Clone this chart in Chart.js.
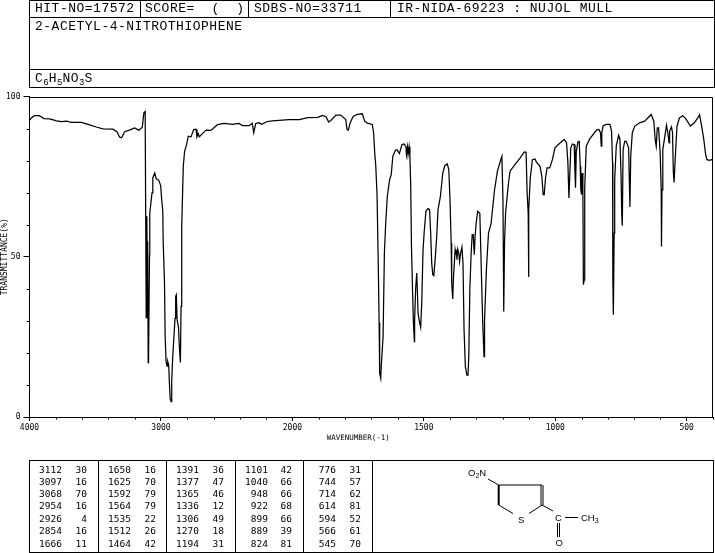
<!DOCTYPE html>
<html><head><meta charset="utf-8">
<script src="https://cdn.jsdelivr.net/npm/chart.js@4"></script>
<style>
html,body{margin:0;padding:0;background:#fff;width:715px;height:553px;overflow:hidden}
#wrap{position:relative;width:715px;height:553px;font-family:"Liberation Mono",monospace;color:#000}
canvas{position:absolute;left:0;top:0}
.h,.v{position:absolute;background:#000}
.h{height:1px}.v{width:1px}
.t{position:absolute;white-space:pre;font-size:13px;letter-spacing:.5px;line-height:14px}
.t sub{font-size:9px;line-height:0;vertical-align:-3px;letter-spacing:0}
.c{position:absolute;font-family:"DejaVu Sans Mono",monospace;font-size:9.5px;line-height:10px;text-align:right;width:30px}
svg{position:absolute;left:0;top:0}
</style></head><body>
<div id="wrap">
<canvas id="c" width="715" height="553"></canvas>
<div class="h" style="left:29px;top:0;width:686px"></div>
<div class="h" style="left:29px;top:17px;width:686px"></div>
<div class="h" style="left:29px;top:69px;width:686px"></div>
<div class="h" style="left:29px;top:87px;width:686px"></div>
<div class="v" style="left:29px;top:0;height:87px"></div>
<div class="v" style="left:714px;top:0;height:87px"></div>
<div class="v" style="left:140px;top:0;height:17px"></div>
<div class="v" style="left:248px;top:0;height:17px"></div>
<div class="v" style="left:390px;top:0;height:17px"></div>
<div class="t" style="left:35px;top:2px">HIT-NO=17572</div>
<div class="t" style="left:145px;top:2px">SCORE=  (  )</div>
<div class="t" style="left:254px;top:2px">SDBS-NO=33711</div>
<div class="t" style="left:397px;top:2px">IR-NIDA-69223 : NUJOL MULL</div>
<div class="t" style="left:35px;top:20px">2-ACETYL-4-NITROTHIOPHENE</div>
<div class="t" style="left:35px;top:72px">C<sub>6</sub>H<sub>5</sub>NO<sub>3</sub>S</div>
<div class="h" style="left:29px;top:460px;width:344px"></div>
<div class="h" style="left:29px;top:552px;width:344px"></div>
<div class="v" style="left:29px;top:460px;height:93px"></div>
<div class="v" style="left:98px;top:460px;height:93px"></div>
<div class="v" style="left:166px;top:460px;height:93px"></div>
<div class="v" style="left:235px;top:460px;height:93px"></div>
<div class="v" style="left:303px;top:460px;height:93px"></div>
<div class="v" style="left:372px;top:460px;height:93px"></div>
<div class="h" style="left:372px;top:460px;width:342px"></div>
<div class="h" style="left:372px;top:552px;width:342px"></div>
<div class="v" style="left:713px;top:460px;height:93px"></div>
<svg width="715" height="553" font-family="Liberation Sans" font-size="9.5" fill="#000">
<g stroke="#000" stroke-width="1" fill="none">
<path d="M488 479L498.7 485L542 485"/>
<path d="M498.7 485L498.7 505" stroke-width="2"/>
<path d="M498.7 505L513 513.5"/>
<path d="M541 485L541 505M543 485L543 505" />
<path d="M542 505L529 513.5"/>
<path d="M542 505L553 511"/>
<path d="M565 517.5L578 517.5"/>
<path d="M557.5 523L557.5 537M559.5 523L559.5 537"/>
</g>
<text x="468" y="476">O<tspan font-size="7" dy="2">2</tspan><tspan dy="-2">N</tspan></text>
<text x="518" y="523">S</text>
<text x="555" y="521">C</text>
<text x="581" y="521">CH<tspan font-size="7" dy="2">3</tspan></text>
<text x="555.5" y="546">O</text>
</svg>
</div>
<script>
const wavenumbers = [
4000,3983,3964,3926,3890,3845,3794,3756,3718,3680,
3605,3555,3486,3441,3365,3335,3314,3299,3276,3239,
3201,3168,3142,3130,3120,3112,3107,3104,3101,3097,
3094,3087,3085,3068,3062,3047,3036,3017,3002,2996,
2986,2983,2973,2968,2961,2953,2948,2941,2936,2930,
2923,2918,2911,2898,2893,2888,2883,2877,2867,2860,
2852,2847,2842,2830,2820,2805,2792,2771,2751,2733,
2726,2716,2708,2658,2620,2570,2519,2456,2405,2380,
2330,2305,2294,2279,2254,2233,2191,2153,2027,1973,
1942,1904,1885,1872,1862,1853,1834,1816,1797,1792,
1787,1780,1769,1753,1734,1725,1715,1696,1691,1686,
1683,1678,1674,1670,1668,1664,1662,1655,1650,1645,
1639,1630,1624,1618,1608,1602,1593,1583,1575,1568,
1566,1562,1560,1556,1553,1550,1547,1543,1540,1536,
1535,1531,1527,1525,1522,1517,1512,1508,1503,1498,
1492,1484,1478,1474,1470,1466,1462,1457,1451,1446,
1437,1428,1420,1411,1405,1400,1396,1394,1390,1387,
1383,1381,1378,1376,1374,1371,1367,1364,1360,1355,
1351,1347,1342,1336,1332,1329,1325,1320,1316,1312,
1308,1305,1301,1295,1287,1282,1276,1271,1269,1262,
1254,1244,1231,1220,1209,1203,1199,1196,1193,1189,
1178,1172,1153,1134,1118,1111,1107,1103,1102,1100,
1095,1087,1077,1072,1058,1051,1046,1042,1037,1031,
1021,1011,1001,982,966,957,952,948,946,941,
935,928,925,923,920,914,909,905,903,900,
898,895,893,890,888,882,869,843,834,828,
825,823,818,805,792,786,782,781,779,776,
774,768,759,754,750,747,745,742,736,730,
721,719,716,713,707,698,679,660,648,635,
625,620,616,612,607,601,597,596,594,591,
585,577,572,567,565,558,554,551,548,544,
537,528,515,503,486,471,458,451,443,435,
428,423,412,400];
const transmittance = [
92.6,93.4,94,94,93.1,93,92.4,92.2,92.3,91.9,
91.9,91.3,90.4,89.9,89.8,89,87.3,87.1,89,89.5,
90.2,89.5,90.4,94.9,95.3,31,62.6,36,54.8,17,
20,50.6,63.6,69.9,74.6,76.1,74.3,73.9,72.2,68.7,
64.2,54.8,41.8,25.1,17.3,15.9,17.3,16.2,11,5.8,
4.8,11.6,18.3,27.2,30.8,37.6,38.1,30.3,28.2,22,
17,34.5,59.5,78.2,82.9,85,87.6,87.4,89.7,89.8,
87.4,88.4,87.4,89.5,89.4,91.2,91.6,91.3,91.6,90.9,
90.9,91.6,88.7,91.6,91.8,91.3,92.2,92.4,92.8,92.8,
93.4,93.5,94.1,93.7,92,92.6,94.2,94.2,92.8,89.7,
89.5,91.8,93.8,94.4,94.6,92.3,91.7,91.3,88.7,81.3,
78.8,69.4,51.1,29.3,13.7,12.1,15.7,25.1,51.1,60.5,
68.8,74.1,75.6,81.3,83.2,83.4,82.2,85,85.2,84.3,
81.9,84.3,81.9,84.3,81.3,73,53.2,39.7,30.3,23.5,
30.3,40.2,44.9,40.7,32.4,29.8,28,35.5,52.2,58.4,
64.2,65,64.7,57.4,48,44.4,44.1,49.1,56.3,64.7,
68.8,76.1,78.4,79,77.2,66.8,54.3,41.8,36.8,43.9,
49.1,52.2,50.6,52.2,49.1,52.4,51.1,48.5,51.1,53,
48,27.2,15.7,13.1,13.1,18.8,39.7,51.1,56.9,56.9,
50.6,56.3,60.5,64.2,63.6,48,29.3,18.8,30.3,45.9,
57.4,60.5,70.9,76.7,79.8,81.3,67.8,32.9,54.3,63.6,
73,76.7,78.8,80.8,82.7,82.6,69.9,63.6,43.7,64.7,
74.6,80.3,80.5,79.6,78.2,75.1,69.4,69.4,74.6,77.7,
77.7,80.3,84,85.5,86.6,85.5,79.3,68.3,72.5,84,
85.2,85,76.1,71.5,82.9,85.8,86,78.2,70.9,69.4,
76.1,70.9,41.3,42.8,71.5,84.5,86.8,89.5,89.7,88.7,
84.5,88.7,90.9,91.3,91.3,89.2,79.3,42.8,31.9,57.4,
74.1,84.5,87.9,86.6,76.1,63.1,59.7,83.4,86,86,
84,76.1,65.5,81.3,88.7,90.7,91.8,92.3,93.3,94.4,
92.3,86.6,84.5,90.2,90.2,82.4,70.9,53.2,70.9,83.4,
86.6,91,88.7,85.5,89.2,90.5,88.7,76.7,73.2,80.3,
90.7,93.3,94,93,90.8,91.8,93.3,94.3,90.7,86.6,
81.9,80.3,80.1,80.5];

const xTickLabels = [4000,3000,2000,1500,1000,500];
const yTickLabels = [0,50,100];
const xTitle = "WAVENUMBER(-1)";
const yTitle = "TRANSMITTANCE(%)";

const peakWavenumbers1 = [3112,3097,3068,2954,2926,2854,1666];
const peakValues1 = [30,16,70,16,4,16,11];
const peakWavenumbers2 = [1650,1625,1592,1564,1535,1512,1464];
const peakValues2 = [16,70,79,79,22,26,42];
const peakWavenumbers3 = [1391,1377,1365,1336,1306,1270,1194];
const peakValues3 = [36,47,46,12,49,18,31];
const peakWavenumbers4 = [1101,1040,948,922,899,889,824];
const peakValues4 = [42,66,66,68,66,39,81];
const peakWavenumbers5 = [776,744,714,614,594,566,545];
const peakValues5 = [31,57,62,81,52,61,70];

const peakCols = [
  [peakWavenumbers1,peakValues1,62,87],
  [peakWavenumbers2,peakValues2,131,156],
  [peakWavenumbers3,peakValues3,199,224],
  [peakWavenumbers4,peakValues4,268,292],
  [peakWavenumbers5,peakValues5,336,361]
];
const rowTops = [465,476.5,489,501,513.5,526,538.5];
const wrap = document.getElementById('wrap');
function cell(txt,right,top){
  const d=document.createElement('div');d.className='c';d.textContent=txt;
  d.style.left=(right-30)+'px';d.style.top=top+'px';wrap.appendChild(d);
}
peakCols.forEach(([w,v,r1,r2])=>{
  w.forEach((n,i)=>{cell(n,r1,rowTops[i]);cell(v[i],r2,rowTops[i]);});
});

// IR charts change scale at 2000 cm-1: the lower range is drawn at twice the width per unit.
const BREAK = 2/5.2;
class WavenumberScale extends Chart.LinearScale {
  static id = 'wavenumber';
  static defaults = Chart.LinearScale.defaults;
  buildTicks(){
    const ticks=[];
    for(let v=4000;v>2000;v-=200) ticks.push({value:v});
    for(let v=2000;v>=400;v-=100) ticks.push({value:v});
    return ticks;
  }
  getPixelForValue(v){
    const d = v>=2000 ? (4000-v)/2000*BREAK : BREAK+(2000-v)/1600*(1-BREAK);
    return this.getPixelForDecimal(d);
  }
  getValueForPixel(p){
    const d=this.getDecimalForPixel(p);
    return d<=BREAK ? 4000-d/BREAK*2000 : 2000-(d-BREAK)/(1-BREAK)*1600;
  }
  drawTitle(){
    this.ctx.save();this.ctx.translate(-13,0);super.drawTitle();this.ctx.restore();
  }
}
Chart.register(WavenumberScale);

const tickDetail = {
  id:'tickDetail',
  afterDraw(chart){
    const {ctx,chartArea:a,scales:{x,y}}=chart;
    ctx.save();ctx.strokeStyle='#000';ctx.lineWidth=1;ctx.beginPath();
    x.ticks.forEach(t=>{ if(!xTickLabels.includes(t.value) && t.value%500!==0){
      const p=Math.round(x.getPixelForValue(t.value))+.5;ctx.moveTo(p,a.bottom);ctx.lineTo(p,a.bottom+2.5);} });
    y.ticks.forEach(t=>{ if(!yTickLabels.includes(t.value)){
      const p=Math.round(y.getPixelForValue(t.value))+.5;ctx.moveTo(a.left-3,p);ctx.lineTo(a.left,p);} });
    const top=Math.round(a.top)+.5,right=Math.round(a.right)-.5;
    ctx.moveTo(a.left,top);ctx.lineTo(right,top);ctx.lineTo(right,a.bottom);
    ctx.stroke();ctx.restore();
  }
};

const mono='"DejaVu Sans Mono", monospace';
new Chart(document.getElementById('c'),{
  type:'line',
  data:{datasets:[{
    label:yTitle,
    data:wavenumbers.map((w,i)=>({x:w,y:transmittance[i]})),
    borderColor:'#000',borderWidth:1.25,pointRadius:0,tension:0,fill:false
  }]},
  plugins:[tickDetail],
  options:{
    responsive:false,animation:false,devicePixelRatio:1,
    layout:{padding:{left:0,top:96.5,right:0.6,bottom:110.5}},
    plugins:{legend:{display:false},tooltip:{enabled:false},title:{display:false}},
    scales:{
      x:{type:'wavenumber',min:400,max:4000,
        afterFit(s){s.height=25.5;},
        grid:{drawOnChartArea:false,tickLength:4,
          tickColor:c=>(c.tick&&c.tick.value%500===0)?'#000':'rgba(0,0,0,0)'},
        border:{display:true,color:'#000',width:1},
        ticks:{autoSkip:false,maxRotation:0,minRotation:0,padding:2,color:'#000',
          font:{family:mono,size:8},
          callback:v=>xTickLabels.includes(v)?String(v):''},
        title:{display:true,text:xTitle,color:'#000',font:{family:mono,size:7.5},padding:0}
      },
      y:{type:'linear',min:0,max:100,
        afterFit(s){s.width=29.5;},
        grid:{drawOnChartArea:false,tickLength:6,
          tickColor:c=>(c.tick&&yTickLabels.includes(c.tick.value))?'#000':'rgba(0,0,0,0)'},
        border:{display:true,color:'#000',width:1},
        ticks:{stepSize:10,padding:3,color:'#000',autoSkip:false,
          font:{family:mono,size:8},
          callback:v=>yTickLabels.includes(v)?String(v):''},
        title:{display:true,text:yTitle,color:'#000',font:{family:mono,size:8},padding:0}
      }
    }
  }
});
</script>
</body></html>
